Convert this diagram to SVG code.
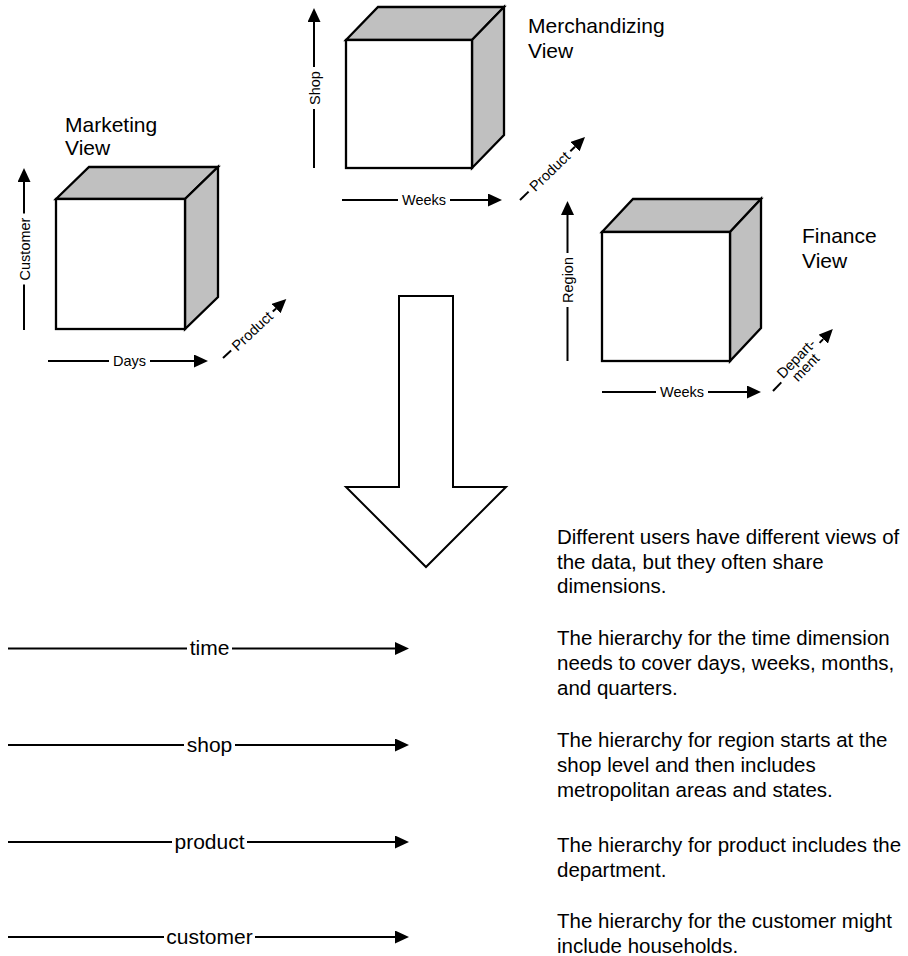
<svg xmlns="http://www.w3.org/2000/svg" width="908" height="956" viewBox="0 0 908 956">
<style>
  .bg { fill: #ffffff; }
  .front { fill: #ffffff; stroke: #000; stroke-width: 2.3; stroke-linejoin: miter; }
  .side { fill: #c0c0c0; stroke: #000; stroke-width: 2.3; stroke-linejoin: miter; }
  .ax { fill: none; stroke: #000; stroke-width: 2; }
  .big { fill: #ffffff; stroke: #000; stroke-width: 2; stroke-linejoin: miter; }
  .sm { font-family: "Liberation Sans", Arial, Helvetica, sans-serif; font-size: 14.5px; fill: #000; text-anchor: middle; }
  .title { font-family: "Liberation Sans", Arial, Helvetica, sans-serif; font-size: 21px; fill: #000; }
  .lbl { font-family: "Liberation Sans", Arial, Helvetica, sans-serif; font-size: 21px; fill: #000; text-anchor: middle; }
  .body { font-family: "Liberation Sans", Arial, Helvetica, sans-serif; font-size: 20.5px; fill: #000; }
</style>
<defs>
  <marker id="ah" markerWidth="14" markerHeight="13" refX="0" refY="6.5" orient="auto" markerUnits="userSpaceOnUse">
    <path d="M0,0 L14,6.5 L0,13 z" fill="#000"/>
  </marker>
</defs>
<rect class="bg" x="0" y="0" width="908" height="956"/>

<!-- Marketing view cube -->
<g id="marketing-cube">
  <polygon class="side" points="56,199 89,167 218,167 185,199"/>
  <polygon class="side" points="185,199 218,167 218,297 185,329"/>
  <rect class="front" x="56" y="199" width="129" height="130"/>
</g>
<g id="marketing-title">
  <text class="title" x="65" y="132">Marketing</text>
  <text class="title" x="65" y="155">View</text>
</g>

<!-- Merchandizing view cube -->
<g id="merchandizing-cube">
  <polygon class="side" points="346,40 378,7 504,7 472,40"/>
  <polygon class="side" points="472,40 504,7 504,135 472,168"/>
  <rect class="front" x="346" y="40" width="126" height="128"/>
</g>
<g id="merchandizing-title">
  <text class="title" x="528" y="33">Merchandizing</text>
  <text class="title" x="528" y="58">View</text>
</g>

<!-- Finance view cube -->
<g id="finance-cube">
  <polygon class="side" points="602,232 633,199 761,199 730,232"/>
  <polygon class="side" points="730,232 761,199 761,328 730,361"/>
  <rect class="front" x="602" y="232" width="128" height="129"/>
</g>
<g id="finance-title">
  <text class="title" x="802" y="243">Finance</text>
  <text class="title" x="802" y="268">View</text>
</g>

<!-- Big down arrow -->
<g id="big-arrow">
  <polygon class="big" points="399,296 453,296 453,487 506,487 426,567 346,487 399,487"/>
</g>

<!-- Connectors / axes -->
<g id="connectors">
  <!-- Marketing axes -->
  <line class="ax" x1="24" y1="330" x2="24" y2="284.5"/>
  <line class="ax" x1="24" y1="213.5" x2="24" y2="182" marker-end="url(#ah)"/>
  <line class="ax" x1="48" y1="361" x2="109" y2="361"/>
  <line class="ax" x1="150" y1="361" x2="194" y2="361" marker-end="url(#ah)"/>
  <line class="ax" x1="223" y1="358" x2="231.1" y2="350.5"/>
  <line class="ax" x1="272.8" y1="311.6" x2="276.1" y2="308.5" marker-end="url(#ah)"/>

  <!-- Merchandizing axes -->
  <line class="ax" x1="314" y1="168" x2="314" y2="109"/>
  <line class="ax" x1="314" y1="67" x2="314" y2="22" marker-end="url(#ah)"/>
  <line class="ax" x1="342" y1="200" x2="398" y2="200"/>
  <line class="ax" x1="450" y1="200" x2="488" y2="200" marker-end="url(#ah)"/>
  <line class="ax" x1="520" y1="200" x2="528.6" y2="191.6"/>
  <line class="ax" x1="570.3" y1="151.3" x2="575" y2="146.7" marker-end="url(#ah)"/>

  <!-- Finance axes -->
  <line class="ax" x1="567.5" y1="361" x2="567.5" y2="307"/>
  <line class="ax" x1="567.5" y1="253" x2="567.5" y2="215" marker-end="url(#ah)"/>
  <line class="ax" x1="602" y1="392" x2="656" y2="392"/>
  <line class="ax" x1="708" y1="392" x2="747" y2="392" marker-end="url(#ah)"/>
  <line class="ax" x1="773" y1="391" x2="781.3" y2="382.4"/>
  <line class="ax" x1="819.6" y1="342.9" x2="823.2" y2="339.1" marker-end="url(#ah)"/>

  <!-- Bottom dimension arrows -->
  <line class="ax" x1="8" y1="648.5" x2="187" y2="648.5"/>
  <line class="ax" x1="232" y1="648.5" x2="395" y2="648.5" marker-end="url(#ah)"/>
  <line class="ax" x1="8" y1="745" x2="184" y2="745"/>
  <line class="ax" x1="235" y1="745" x2="395" y2="745" marker-end="url(#ah)"/>
  <line class="ax" x1="8" y1="842" x2="172" y2="842"/>
  <line class="ax" x1="247" y1="842" x2="395" y2="842" marker-end="url(#ah)"/>
  <line class="ax" x1="8" y1="937" x2="164" y2="937"/>
  <line class="ax" x1="255" y1="937" x2="395" y2="937" marker-end="url(#ah)"/>
</g>

<!-- Axis labels -->
<g id="axis-labels">
  <text class="sm" transform="translate(29.5,249) rotate(-90)">Customer</text>
  <text class="sm" x="129.5" y="366">Days</text>
  <text class="sm" transform="translate(255.7,334.7) rotate(-43)">Product</text>

  <text class="sm" transform="translate(319.5,88) rotate(-90)">Shop</text>
  <text class="sm" x="424" y="205.3">Weeks</text>
  <text class="sm" transform="translate(553.2,175) rotate(-44)">Product</text>

  <text class="sm" transform="translate(573,280) rotate(-90)">Region</text>
  <text class="sm" x="682" y="397.3">Weeks</text>
  <g transform="translate(800.5,362.6) rotate(-45.9)">
    <text class="sm" x="0" y="-1">Depart-</text>
    <text class="sm" x="0" y="12">ment</text>
  </g>
</g>

<g id="dimension-labels">
  <text class="lbl" x="209.5" y="655">time</text>
  <text class="lbl" x="209.5" y="751.5">shop</text>
  <text class="lbl" x="209.5" y="848.5">product</text>
  <text class="lbl" x="209.5" y="943.5">customer</text>
</g>

<g id="notes">
  <text class="body" x="557" y="544">Different users have different views of</text>
  <text class="body" x="557" y="568.5">the data, but they often share</text>
  <text class="body" x="557" y="593">dimensions.</text>

  <text class="body" x="557" y="645">The hierarchy for the time dimension</text>
  <text class="body" x="557" y="670">needs to cover days, weeks, months,</text>
  <text class="body" x="557" y="694.5">and quarters.</text>

  <text class="body" x="557" y="747">The hierarchy for region starts at the</text>
  <text class="body" x="557" y="771.5">shop level and then includes</text>
  <text class="body" x="557" y="797">metropolitan areas and states.</text>

  <text class="body" x="557" y="852">The hierarchy for product includes the</text>
  <text class="body" x="557" y="876.5">department.</text>

  <text class="body" x="557" y="928">The hierarchy for the customer might</text>
  <text class="body" x="557" y="952.5">include households.</text>
</g>
</svg>
